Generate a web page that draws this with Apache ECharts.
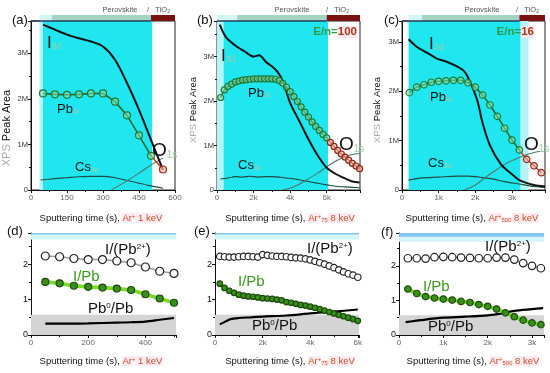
<!DOCTYPE html>
<html><head><meta charset="utf-8">
<script src="https://cdn.jsdelivr.net/npm/echarts@6/dist/echarts.min.js"></script>
<style>html,body{margin:0;padding:0;background:#fff}#c{width:550px;height:373px}</style>
</head><body><div id="c"></div><script>
const FONT = 'Arial, "Liberation Sans", Helvetica, sans-serif';

// ---------- Panel (a): Ar+ 1 keV (values in millions) ----------
const aITime = [50,100,150,200,250,300,350,400,450,500,550];
const aI3d   = [3.63,3.52,3.41,3.33,3.26,3.15,2.86,2.35,1.76,1.10,0.44];
const aPbTime = [50,100,150,200,250,300,350,400,450,500];
const aPb4f   = [2.12,2.10,2.09,2.10,2.12,2.12,1.94,1.64,1.20,0.75];
const aPbTiTime = [550];
const aPbTi     = [0.45];
const aCsTime = [40,100,150,200,250,300,350,400,450,500,550];
const aCs3d   = [0.22,0.25,0.27,0.29,0.30,0.30,0.27,0.21,0.15,0.09,0.04];
const aOTime = [335,400,450,500,550];
const aO1s   = [0,0.20,0.37,0.55,0.70];

// ---------- Panel (b): Ar75 8 keV ----------
const bITime = [150,500,1000,1500,2000,2300,2700,3000,3300,3600,4000,4500,5000,5500,6000,6500,7000,7400,7800];
const bI3d   = [3.72,3.43,3.25,3.12,3.00,3.03,2.87,2.78,2.66,2.45,1.96,1.55,1.14,0.78,0.50,0.36,0.26,0.19,0.17];
const bPbTime = [200,400,600,800,1000,1200,1400,1600,1800,2000,2200,2400,2600,2800,3000,3200,3400,3600,3800,4000,4200,4400,4600,4800,5000,5200,5400,5600,5800,6000];
const bPb4f   = [2.08,2.25,2.33,2.38,2.43,2.45,2.47,2.48,2.49,2.50,2.50,2.50,2.50,2.50,2.50,2.49,2.46,2.40,2.31,2.21,2.10,1.99,1.87,1.75,1.64,1.53,1.43,1.34,1.25,1.17];
const bPbTiTime = [6200,6400,6600,6800,7000,7200,7400,7600,7800];
const bPbTi     = [1.07,0.98,0.89,0.81,0.74,0.67,0.60,0.54,0.48];
const bCsTime = [200,600,1000,1400,1800,2200,2600,3000,3400,3800,4200,4600,5000,5400,5800,6200,6600,7000,7400,7800];
const bCs3d   = [0.25,0.27,0.30,0.29,0.31,0.29,0.30,0.30,0.29,0.27,0.25,0.22,0.19,0.16,0.13,0.10,0.08,0.07,0.06,0.05];
const bOTime = [3600,4000,4500,5000,5500,6000,6500,7000,7400,7800];
const bO1s   = [0,0.04,0.13,0.25,0.38,0.52,0.65,0.75,0.80,0.82];

// ---------- Panel (c): Ar500 8 keV ----------
const cITime = [180,400,700,950,1200,1500,1700,1850,2050,2200,2400,2700,3000,3200,3600,3900];
const cI3d   = [3.05,2.90,2.77,2.66,2.60,2.50,2.40,2.20,1.82,1.35,0.90,0.52,0.32,0.20,0.10,0.07];
const cPbTime = [200,400,600,800,1000,1200,1400,1600,1800,2000,2200,2400,2600,2800,3000,3200];
const cPb4f   = [1.97,2.08,2.13,2.18,2.20,2.21,2.22,2.22,2.17,2.08,1.92,1.72,1.49,1.25,1.01,0.81];
const cPbTiTime = [3400,3600,3800];
const cPbTi     = [0.62,0.49,0.35];
const cCsTime = [180,500,1000,1500,1800,2000,2200,2500,2800,3200,3600,3900];
const cCs3d   = [0.20,0.24,0.26,0.28,0.28,0.27,0.25,0.22,0.17,0.12,0.07,0.05];
const cOTime = [1700,2000,2300,2600,2900,3200,3500,3900];
const cO1s   = [0,0.10,0.27,0.42,0.56,0.66,0.74,0.80];

// ---------- Panel (d) ----------
const dTime = [50,100,150,200,250,300,350,400,450,500];
const dIPb2 = [2.23,2.21,2.16,2.13,2.13,2.09,2.04,1.92,1.80,1.74];
const dIPb  = [1.50,1.46,1.39,1.36,1.34,1.31,1.27,1.15,1.03,0.91];
const dPb0Time = [50,100,200,300,350,400,450,500];
const dPb0     = [0.32,0.32,0.33,0.35,0.36,0.38,0.43,0.48];

// ---------- Panel (e) ----------
const eTime = [200,400,600,800,1000,1200,1400,1600,1800,2000,2200,2400,2600,2800,3000,3200,3400,3600,3800,4000,4200,4400,4600,4800,5000,5200,5400,5600,5800,6000];
const eIPb2 = [2.22,2.21,2.20,2.20,2.21,2.22,2.22,2.21,2.20,2.27,2.25,2.23,2.22,2.22,2.21,2.19,2.18,2.17,2.15,2.12,2.08,2.04,2.00,1.95,1.90,1.84,1.78,1.73,1.69,1.63];
const eIPb  = [1.45,1.33,1.25,1.19,1.14,1.11,1.09,1.08,1.06,1.04,1.03,1.02,1.00,0.98,0.93,0.91,0.88,0.85,0.83,0.80,0.77,0.73,0.69,0.65,0.61,0.57,0.53,0.49,0.45,0.40];
const ePb0Time = [200,500,650,1000,1500,2000,3000,4000,5000,6000];
const ePb0     = [0.30,0.40,0.45,0.48,0.50,0.52,0.55,0.61,0.66,0.72];

// ---------- Panel (f) ----------
const fTime = [200,400,600,800,1000,1200,1400,1600,1800,2000,2200,2400,2600,2800,3000,3200];
const fIPb2 = [2.22,2.22,2.21,2.25,2.26,2.25,2.24,2.23,2.22,2.22,2.24,2.24,2.18,2.08,2.00,1.93];
const fIPb  = [1.33,1.20,1.11,1.07,1.04,1.01,0.97,0.94,0.88,0.83,0.75,0.64,0.53,0.43,0.35,0.30];
const fPb0Time = [150,500,1000,1500,2000,2300,2600,3000,3250];
const fPb0     = [0.37,0.43,0.50,0.53,0.57,0.62,0.70,0.75,0.78];

// ---------- ranges & regions ----------
const xMax = [600, 7820, 3900, 507, 6050, 3270];
const xInt = [150, 2000, 1000, 200, 2000, 1000];
const yMax = [3.71, 3.8, 3.42, 2.88, 2.88, 2.95];
const cyanLight = [[35,50],[0,360],[3230,3450]];
const cyanBright = [[50,505],[360,6070],[180,3230]];
const stripPale = [[35,87],[0,1100],[180,550]];
const stripPerov = [[87,500],[1100,6000],[550,3200]];
const stripTiO2 = [[500,600],[6000,7820],[3200,3900]];
const greyBand = 0.57;

const zip = (t, v) => t.map((x, i) => [x, v[i]]);
const kfmt = v => v === 0 ? '0' : (v / 1000) + 'k';
const mfmt = v => v === 0 ? '0' : v + 'M';

const grids = [
  {left:31, top:21, width:144, height:169, show:true, borderColor:'#222', borderWidth:1},
  {left:217, top:21, width:143, height:169, show:true, borderColor:'#222', borderWidth:1},
  {left:402, top:21, width:143, height:169, show:true, borderColor:'#222', borderWidth:1},
  {left:31, top:233, width:145, height:102},
  {left:215, top:233, width:144, height:102},
  {left:399, top:233, width:145, height:102},
  {left:31, top:15, width:144, height:6},
  {left:217, top:15, width:143, height:6},
  {left:402, top:15, width:143, height:6}
];

const xfmts = [v => String(v), kfmt, kfmt, v => String(v), kfmt, kfmt];
const xAxes = [], yAxes = [];
for (let i = 0; i < 6; i++) {
  xAxes.push({type:'value', gridIndex:i, min:0, max:xMax[i], interval:xInt[i],
    axisLine:{show:true, onZero:false, lineStyle:{color:'#111', width:1}},
    axisTick:{show:true, length:3, lineStyle:{color:'#111'}},
    minorTick:{show:true, splitNumber:2, length:2, lineStyle:{color:'#111'}},
    axisLabel:{fontSize:8, color:'#666', margin:4, fontFamily:FONT, formatter:xfmts[i], showMaxLabel: i === 0},
    splitLine:{show:false}});
  yAxes.push({type:'value', gridIndex:i, min:0, max:yMax[i], interval:1,
    axisLine:{show:true, onZero:false, lineStyle:{color:'#111', width:1}},
    axisTick:{show:true, length:3, lineStyle:{color:'#111'}},
    minorTick:{show:true, splitNumber:2, length:2, lineStyle:{color:'#111'}},
    axisLabel:{fontSize: i < 3 ? 7.5 : 9, color: i < 3 ? '#333' : '#111', margin:3, fontFamily:FONT,
      formatter: i < 3 ? mfmt : (v => String(v)), showMaxLabel:false},
    splitLine:{show:false}});
}
for (let i = 0; i < 3; i++) {
  xAxes.push({type:'value', gridIndex:6 + i, min:0, max:xMax[i], show:false});
  yAxes.push({type:'value', gridIndex:6 + i, min:0, max:1, show:false});
}

const series = [];
function bg(i, areas) {
  series.push({type:'line', xAxisIndex:i, yAxisIndex:i, data:[[0, -10]], symbol:'none',
    lineStyle:{opacity:0}, silent:true, z:1,
    markArea:{silent:true, data:areas}});
}
function line(i, data, color, width, z) {
  series.push({type:'line', xAxisIndex:i, yAxisIndex:i, data, symbol:'none', smooth:0.3,
    lineStyle:{color, width}, z: z || 3, animation:false});
}
function circles(i, data, lineColor, lw, fill, edge, size, z) {
  series.push({type:'line', xAxisIndex:i, yAxisIndex:i, data, symbol:'circle', symbolSize:size,
    showSymbol:true, lineStyle:{color:lineColor, width:lw},
    itemStyle:{color:fill, borderColor:edge, borderWidth:1.2}, z: z || 4, animation:false});
}

// top-row backgrounds
for (let i = 0; i < 3; i++) {
  bg(i, [
    [{xAxis:cyanLight[i][0], itemStyle:{color:'#b5f3f7'}}, {xAxis:cyanLight[i][1]}],
    [{xAxis:cyanBright[i][0], itemStyle:{color:'#1fe6ef'}}, {xAxis:cyanBright[i][1]}]
  ]);
  bg(6 + i, [
    [{xAxis:stripPale[i][0], itemStyle:{color:'#d3f5f5'}}, {xAxis:stripPale[i][1]}],
    [{xAxis:stripPerov[i][0], itemStyle:{color:'#a3d5c2'}}, {xAxis:stripPerov[i][1]}],
    [{xAxis:stripTiO2[i][0], itemStyle:{color:'#7a1212'}}, {xAxis:stripTiO2[i][1]}]
  ]);
  series.push({type:'line', xAxisIndex:i, yAxisIndex:i, data:[[0,-10]], symbol:'none', lineStyle:{opacity:0}, z:5,
    markLine:{silent:true, symbol:'none', label:{show:false}, lineStyle:{color:'#2b3a5c', width:1.5, type:'solid'},
      data:[[{coord:[0, yMax[i]]}, {coord:[stripTiO2[i][0], yMax[i]]}]]}});
}
// bottom-row backgrounds
for (let i = 3; i < 6; i++) {
  bg(i, [
    [{yAxis:0, itemStyle:{color:'#d4d4d4'}}, {yAxis:greyBand}],
    [{yAxis:2.70, itemStyle:{color:'#d2f6fa'}}, {yAxis:2.84}],
    [{yAxis:2.84, itemStyle:{color:'#7fc6ee'}}, {yAxis:yMax[i]}]
  ]);
}

const PB_LINE = '#1d6a2c', PB_FILL = 'rgba(140,225,165,0.55)', PB_EDGE = '#1f7a35';
const RED_LINE = '#c23b22', RED_FILL = 'rgba(240,170,150,0.6)', RED_EDGE = '#8a2a18';
const CS_COL = '#1d4d40', O_COL = '#4c7a68';

const panels = [
  [aITime,aI3d,aPbTime,aPb4f,aPbTiTime,aPbTi,aCsTime,aCs3d,aOTime,aO1s,7],
  [bITime,bI3d,bPbTime,bPb4f,bPbTiTime,bPbTi,bCsTime,bCs3d,bOTime,bO1s,6],
  [cITime,cI3d,cPbTime,cPb4f,cPbTiTime,cPbTi,cCsTime,cCs3d,cOTime,cO1s,6.5]
];
panels.forEach((p, i) => {
  line(i, zip(p[6], p[7]), CS_COL, 1.1, 3);
  line(i, zip(p[8], p[9]), O_COL, 1.1, 3);
  line(i, zip(p[0], p[1]), '#151515', 2, 4);
  circles(i, zip(p[2], p[3]), PB_LINE, 1.6, PB_FILL, PB_EDGE, p[10], 5);
  const last = [p[2][p[2].length - 1], p[3][p[3].length - 1]];
  const red = [{value:last, symbolSize:0}].concat(zip(p[4], p[5]));
  circles(i, red, RED_LINE, 1.4, RED_FILL, RED_EDGE, p[10], 5);
});

const bottom = [
  [dTime,dIPb2,dIPb,dPb0Time,dPb0,8],
  [eTime,eIPb2,eIPb,ePb0Time,ePb0,6.5],
  [fTime,fIPb2,fIPb,fPb0Time,fPb0,7.5]
];
bottom.forEach((p, k) => {
  const i = 3 + k;
  line(i, zip(p[3], p[4]), '#000', 2.2, 3);
  circles(i, zip(p[0], p[1]), '#9a9a9a', 1.5, '#fff', '#222', p[5], 4);
  circles(i, zip(p[0], p[2]), '#7ddc1f', 3.8, '#3a8f1c', '#1b4a0c', p[5] - 1, 5);
});

// ---------- text annotations ----------
const G = [];
function T(x, y, text, rich, o) {
  o = o || {};
  G.push({type:'text', x, y, rotation:o.rot || 0, z:50, silent:true,
    style:Object.assign({text, rich, fontFamily:FONT, fontSize:o.size || 10, fill:o.fill || '#111',
      align:o.align || 'left', textAlign:o.align || 'left', verticalAlign:'middle', textVerticalAlign:'middle'}, o.style || {})});
}
const SUBC = '#9ccfa6';
function label(x, y, main, sub, size) {
  T(x, y, '{m|' + main + '}{s|' + sub + '}', {
    m:{fontSize:size, fill:'#111', fontFamily:FONT},
    s:{fontSize:Math.round(size * 0.5), fill:SUBC, fontFamily:FONT, verticalAlign:'bottom'}
  });
}
[['(a)',12,20],['(b)',197,20],['(c)',384,20],['(d)',7,231],['(e)',194,231],['(f)',381,232]]
  .forEach(a => T(a[1], a[2], a[0], null, {size:13}));
label(47, 43, 'I', '3d', 17); label(57, 109, 'Pb', '4f', 13); label(75, 167, 'Cs', '3d', 13); label(152, 151, 'O', '1s', 19);
label(221, 56, 'I', '3d', 17); label(248, 93, 'Pb', '4f', 13); label(238, 165, 'Cs', '3d', 13); label(339, 145, 'O', '1s', 19);
label(429, 44, 'I', '3d', 17); label(430, 97, 'Pb', '4f', 13); label(428, 163, 'Cs', '3d', 13); label(524, 145, 'O', '1s', 19);
const enRich = {g:{fill:'#2e9a4a', fontSize:11.5, fontWeight:'bold', fontFamily:FONT},
                r:{fill:'#a8381a', fontSize:11.5, fontWeight:'bold', fontFamily:FONT, backgroundColor:'#fde6ee'}};
T(357, 32, '{g|E/n=}{r|100}', enRich, {align:'right'});
T(534, 32, '{g|E/n=}{r|16}', enRich, {align:'right'});
const tiRich = {n:{fontSize:7.5, fill:'#555', fontFamily:FONT}, s:{fontSize:5, fill:'#555', fontFamily:FONT, verticalAlign:'bottom'}};
[[120,147],[292,326],[482,516]].forEach(p => {
  T(p[0], 10, '{n|Perovskite}', tiRich, {align:'center'});
  T(p[1], 10, '{n|/   TiO}{s|2}', tiRich);
});
const yRich = s => ({g:{fill:'#aaa', fontSize:s, fontFamily:FONT}, k:{fill:'#111', fontSize:s, fontFamily:FONT}});
T(7, 128, '{g|XPS }{k|Peak Area}', yRich(11), {align:'center', rot:Math.PI / 2});
T(193, 110, '{g|XPS }{k|Peak Area}', yRich(9.5), {align:'center', rot:Math.PI / 2});
T(377, 110, '{g|XPS }{k|Peak Area}', yRich(9.5), {align:'center', rot:Math.PI / 2});
const xr = {k:{fill:'#111', fontSize:9.5, fontFamily:FONT},
            r:{fill:'#c4502a', fontSize:9.5, fontFamily:FONT, backgroundColor:'#fdeaf0'},
            p:{fill:'#c4502a', fontSize:6, fontFamily:FONT, verticalAlign:'top', backgroundColor:'#fdeaf0'},
            b:{fill:'#c4502a', fontSize:6, fontFamily:FONT, verticalAlign:'bottom', backgroundColor:'#fdeaf0'}};
const xt = ['{k|Sputtering time (s), }{r|Ar}{p|+}{r| 1 keV}',
            '{k|Sputtering time (s), }{r|Ar}{p|+}{b|75}{r| 8 keV}',
            '{k|Sputtering time (s), }{r|Ar}{p|+}{b|500}{r| 8 keV}'];
[[101,218,0],[290,218,1],[472,218,2],[101,361,0],[290,361,1],[473,361,2]]
  .forEach(a => T(a[0], a[1], xt[a[2]], xr, {align:'center'}));
const rr = {k:{fill:'#111', fontSize:15, fontFamily:FONT}, p:{fill:'#111', fontSize:8, fontFamily:FONT, verticalAlign:'top'},
            g:{fill:'#3a9a20', fontSize:15, fontFamily:FONT}};
[[105,250],[307,249],[485,247]].forEach(p => T(p[0], p[1], '{k|I/(Pb}{p|2+}{k|)}', rr));
[[73,277],[238,282],[423,287]].forEach(p => T(p[0], p[1], '{g|I/Pb}', rr));
[[88,309],[252,326],[428,327]].forEach(p => T(p[0], p[1], '{k|Pb}{p|0}{k|/Pb}', rr));

const chart = echarts.init(document.getElementById('c'), null, {renderer:'canvas'});
chart.setOption({animation:false, grid:grids, xAxis:xAxes, yAxis:yAxes, series, graphic:G});
</script></body></html>
